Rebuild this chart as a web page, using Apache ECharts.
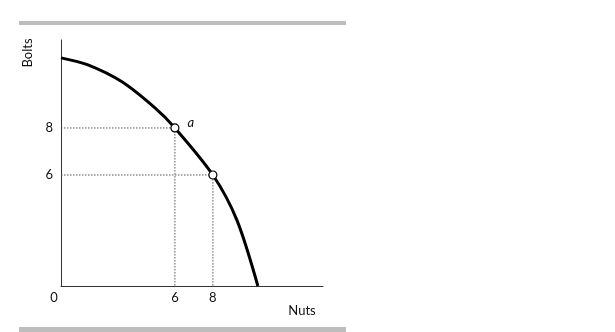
<!DOCTYPE html>
<html>
<head>
<meta charset="utf-8">
<script src="https://cdn.jsdelivr.net/npm/echarts@6/dist/echarts.min.js"></script>
<style>
  html, body { margin: 0; padding: 0; background: #fff; }
  #ch1 { width: 615px; height: 332px; }
</style>
</head>
<body>
<div id="ch1"></div>
<script>
// PPF curve: [nuts, bolts]
var curvePts = [[0, 10.98], [1.42, 10.68], [3.21, 9.96], [4.95, 8.85], [6, 8], [8, 6], [9.26, 4.09], [10.37, 1.28]];
// marked points
var markPts = [[6, 8], [8, 6]];
var markNames = ['a', ''];
var xTicks = [0, 6, 8];
var yTicks = [6, 8];
var xMin = 0, xMax = 13.8;
var yMin = 1.28, yMax = 11.74;

window.onload = function() {
  var ch1 = echarts.init(document.getElementById('ch1'));
  var font = 'Lato, "DejaVu Sans", sans-serif';

  // dotted guide lines from each point to both axes
  var guides = markPts.map(function(p) {
    return {
      type: 'line',
      data: [[xMin, p[1]], [p[0], p[1]], [p[0], yMin]],
      symbol: 'none',
      silent: true,
      z: 1,
      lineStyle: { color: '#555', width: 1, type: [1.5, 1.5] }
    };
  });

  var op1 = {
    animation: false,
    grid: { left: 61, right: 292, top: 40, bottom: 46 },
    xAxis: {
      type: 'value',
      min: xMin,
      max: xMax,
      splitLine: { show: false },
      axisTick: { show: false },
      axisLine: { lineStyle: { color: '#333', width: 1 } },
      axisLabel: {
        customValues: xTicks,
        margin: 5,
        color: '#111',
        fontFamily: font,
        fontSize: 13,
        formatter: function(v) { return v === 0 ? '{z|0}' : String(v); },
        rich: { z: { padding: [0, 14, 0, 0], fontFamily: font, fontSize: 13, color: '#111' } }
      }
    },
    yAxis: {
      type: 'value',
      min: yMin,
      max: yMax,
      splitLine: { show: false },
      axisTick: { show: false },
      axisLine: { lineStyle: { color: '#333', width: 1 } },
      axisLabel: {
        customValues: yTicks,
        margin: 8,
        color: '#111',
        fontFamily: font,
        fontSize: 13
      }
    },
    graphic: [
      { type: 'rect', shape: { x: 19, y: 21, width: 327, height: 4 }, style: { fill: '#bdbdbd' } },
      { type: 'rect', shape: { x: 19, y: 327, width: 327, height: 5 }, style: { fill: '#bdbdbd' } },
      { type: 'text', x: 28, y: 53, rotation: Math.PI / 2, style: { text: 'Bolts', fill: '#111', font: '13px ' + font, align: 'center', verticalAlign: 'middle' } },
      { type: 'text', x: 302, y: 311, style: { text: 'Nuts', fill: '#111', font: '13px ' + font, align: 'center', verticalAlign: 'middle' } }
    ],
    series: guides.concat([
      {
        type: 'line',
        data: curvePts,
        smooth: 0.3,
        symbol: 'none',
        z: 2,
        lineStyle: { color: '#000', width: 3 }
      },
      {
        type: 'scatter',
        data: markPts,
        symbol: 'circle',
        symbolSize: 8,
        z: 3,
        itemStyle: { color: '#fff', borderColor: '#000', borderWidth: 1.2, opacity: 1 },
        label: {
          show: true,
          position: 'right',
          offset: [3, -5],
          formatter: function(p) { return markNames[p.dataIndex]; },
          fontStyle: 'italic',
          fontFamily: font,
          fontSize: 13,
          color: '#111'
        }
      }
    ])
  };

  ch1.setOption(op1);
};
</script>
</body>
</html>
